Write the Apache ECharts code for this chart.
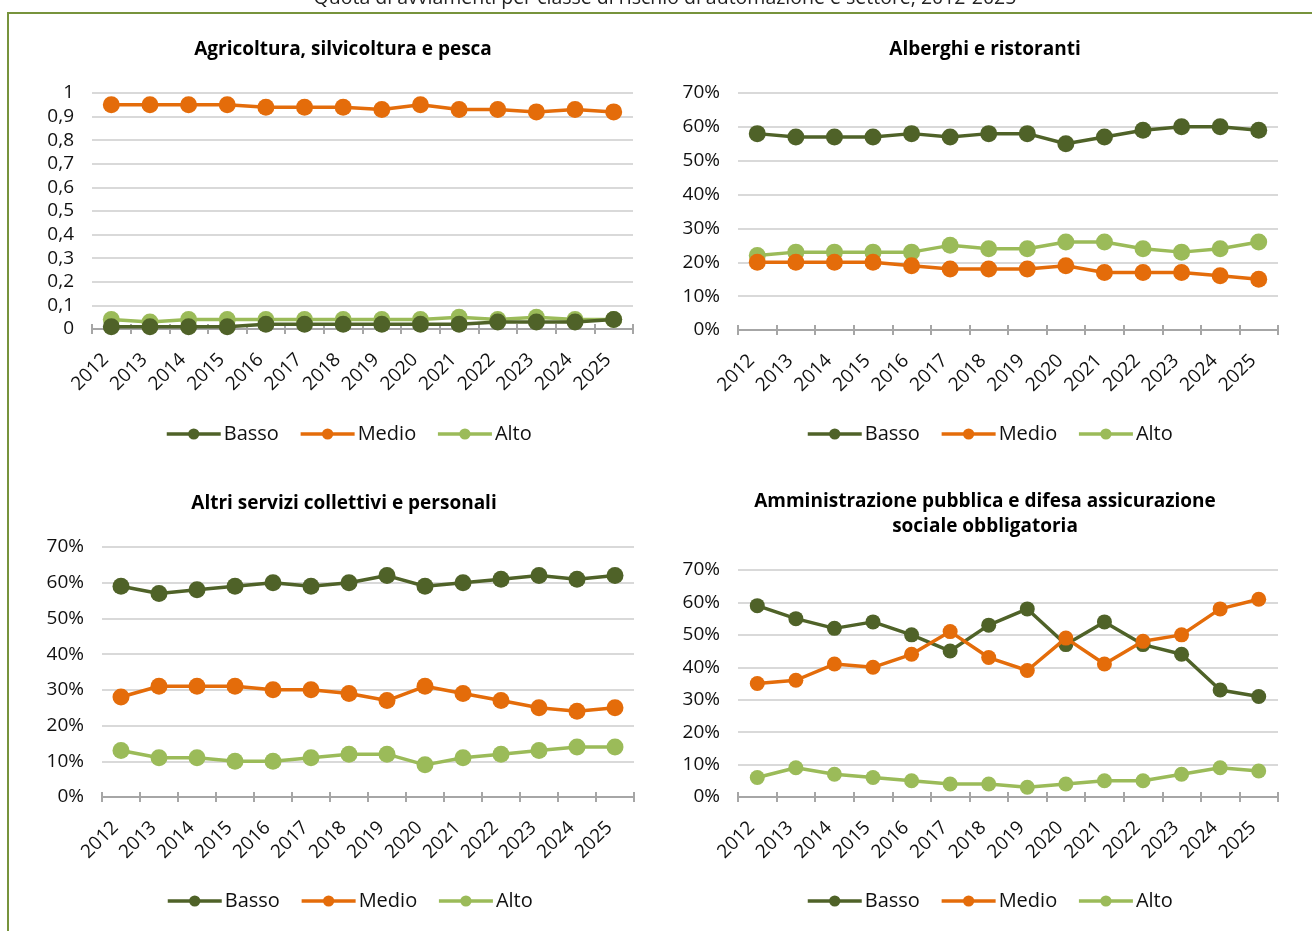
<!DOCTYPE html>
<html>
<head>
<meta charset="utf-8">
<script src="https://cdn.jsdelivr.net/npm/echarts@6/dist/echarts.min.js"></script>
<style>
  html, body { margin: 0; padding: 0; background: #fff; }
  #chart { width: 1312px; height: 931px; }
</style>
</head>
<body>
<div id="chart"></div>
<script>
// Years on the category axis
const years = ['2012','2013','2014','2015','2016','2017','2018','2019','2020','2021','2022','2023','2024','2025'];

// Agricoltura, silvicoltura e pesca (shares, 0-1)
const agriBasso = [0.01,0.01,0.01,0.01,0.02,0.02,0.02,0.02,0.02,0.02,0.03,0.03,0.03,0.04];
const agriMedio = [0.95,0.95,0.95,0.95,0.94,0.94,0.94,0.93,0.95,0.93,0.93,0.92,0.93,0.92];
const agriAlto  = [0.04,0.03,0.04,0.04,0.04,0.04,0.04,0.04,0.04,0.05,0.04,0.05,0.04,0.04];

// Alberghi e ristoranti (%)
const albBasso = [58,57,57,57,58,57,58,58,55,57,59,60,60,59];
const albMedio = [20,20,20,20,19,18,18,18,19,17,17,17,16,15];
const albAlto  = [22,23,23,23,23,25,24,24,26,26,24,23,24,26];

// Altri servizi collettivi e personali (%)
const altBasso = [59,57,58,59,60,59,60,62,59,60,61,62,61,62];
const altMedio = [28,31,31,31,30,30,29,27,31,29,27,25,24,25];
const altAlto  = [13,11,11,10,10,11,12,12,9,11,12,13,14,14];

// Amministrazione pubblica e difesa assicurazione sociale obbligatoria (%)
const ammBasso = [59,55,52,54,50,45,53,58,47,54,47,44,33,31];
const ammMedio = [35,36,41,40,44,51,43,39,49,41,48,50,58,61];
const ammAlto  = [6,9,7,6,5,4,4,3,4,5,5,7,9,8];

const seriesNames = ['Basso','Medio','Alto'];
const panelTitles = [
  'Agricoltura, silvicoltura e pesca',
  'Alberghi e ristoranti',
  'Altri servizi collettivi e personali',
  'Amministrazione pubblica e difesa assicurazione\nsociale obbligatoria'
];
const mainTitle = 'Quota di avviamenti per classe di rischio di automazione e settore, 2012-2025';

const COLORS = { Basso: '#4F6228', Medio: '#E46C0A', Alto: '#9BBB59' };
const FONT = '"Open Sans", "Roboto", sans-serif';
const AXIS_GREY = '#A6A6A6';

const grids = [
  { left: 92,  right: 679, top: 93,  bottom: 602 },
  { left: 738, right: 34,  top: 93,  bottom: 601 },
  { left: 102, right: 678, top: 547, bottom: 134 },
  { left: 738, right: 34,  top: 570, bottom: 134 }
];

const panelData = [
  [agriBasso, agriMedio, agriAlto],
  [albBasso, albMedio, albAlto],
  [altBasso, altMedio, altAlto],
  [ammBasso, ammMedio, ammAlto]
];

// Main category axes (line, outward ticks, rotated year labels)
const xAxes = grids.map((g, i) => ({
  type: 'category',
  gridIndex: i,
  data: years,
  boundaryGap: true,
  axisLine: { lineStyle: { color: AXIS_GREY, width: 2 } },
  axisTick: { show: true, length: 5, lineStyle: { color: AXIS_GREY, width: 2 } },
  axisLabel: {
    rotate: 45, fontSize: 19, color: '#111', fontFamily: FONT,
    margin: 22, padding: [0, 8, 0, 0]
  }
}));
// Companion axes drawing the inward half of the crossing tick marks
grids.forEach((g, i) => {
  xAxes.push({
    type: 'category',
    gridIndex: i,
    data: years,
    position: 'bottom',
    boundaryGap: true,
    axisLine: { show: false },
    axisTick: { show: true, inside: true, length: 5, lineStyle: { color: AXIS_GREY, width: 2 } },
    axisLabel: { show: false },
    splitLine: { show: false }
  });
});

const yAxes = grids.map((g, i) => {
  const frac = i === 0;
  return {
    type: 'value',
    gridIndex: i,
    min: 0,
    max: frac ? 1 : 70,
    interval: frac ? 0.1 : 10,
    axisLine: { show: false },
    axisTick: { show: false },
    splitLine: { lineStyle: { color: '#D9D9D9', width: 2 } },
    axisLabel: {
      fontSize: 19, color: '#111', fontFamily: FONT, margin: 18,
      formatter: frac
        ? (v) => (v === 0 ? '0' : v === 1 ? '1' : v.toFixed(1).replace('.', ','))
        : (v) => v + '%'
    }
  };
});

const series = [];
panelData.forEach((arrs, i) => {
  arrs.forEach((arr, k) => {
    const name = seriesNames[k];
    series.push({
      name,
      type: 'line',
      xAxisIndex: i,
      yAxisIndex: i,
      data: arr,
      symbol: 'circle',
      symbolSize: i === 3 ? 15 : 17,
      showSymbol: true,
      lineStyle: { color: COLORS[name], width: 3.5 },
      itemStyle: { color: COLORS[name] },
      z: k === 2 ? 3 : k === 0 ? 4 : 5
    });
  });
});

const titles = [
  { text: panelTitles[0], left: 343, top: 37 },
  { text: panelTitles[1], left: 985, top: 37 },
  { text: panelTitles[2], left: 344, top: 491 },
  { text: panelTitles[3], left: 985, top: 489 }
].map(t => ({
  text: t.text,
  left: t.left,
  top: t.top,
  textAlign: 'center',
  padding: 0,
  textStyle: { fontSize: 19, fontWeight: 'bold', color: '#000', fontFamily: FONT, lineHeight: 25 }
}));

const legendPos = [
  { left: 165, top: 424 },
  { left: 806, top: 424 },
  { left: 166, top: 891 },
  { left: 806, top: 891 }
];
const legends = legendPos.map(p => ({
  left: p.left,
  top: p.top,
  data: seriesNames,
  itemWidth: 54,
  itemHeight: 14,
  itemGap: 20,
  padding: 0,
  selectedMode: false,
  lineStyle: { width: 3.5 },
  textStyle: { fontSize: 20, color: '#111', fontFamily: FONT, padding: [0, 0, 0, -2] }
}));

const option = {
  backgroundColor: '#fff',
  animation: false,
  title: titles,
  legend: legends,
  grid: grids,
  xAxis: xAxes,
  yAxis: yAxes,
  series,
  graphic: [
    {
      type: 'rect',
      shape: { x: 8, y: 13, width: 1330, height: 950 },
      style: { fill: 'none', stroke: '#77933C', lineWidth: 2 },
      silent: true
    },
    {
      type: 'text',
      x: 665,
      y: 8,
      style: {
        text: mainTitle,
        fill: '#222',
        fontSize: 19.5,
        fontFamily: FONT,
        textAlign: 'center',
        textVerticalAlign: 'bottom'
      },
      silent: true
    }
  ]
};

const chart = echarts.init(document.getElementById('chart'), null, { renderer: 'canvas' });
chart.setOption(option);
</script>
</body>
</html>
